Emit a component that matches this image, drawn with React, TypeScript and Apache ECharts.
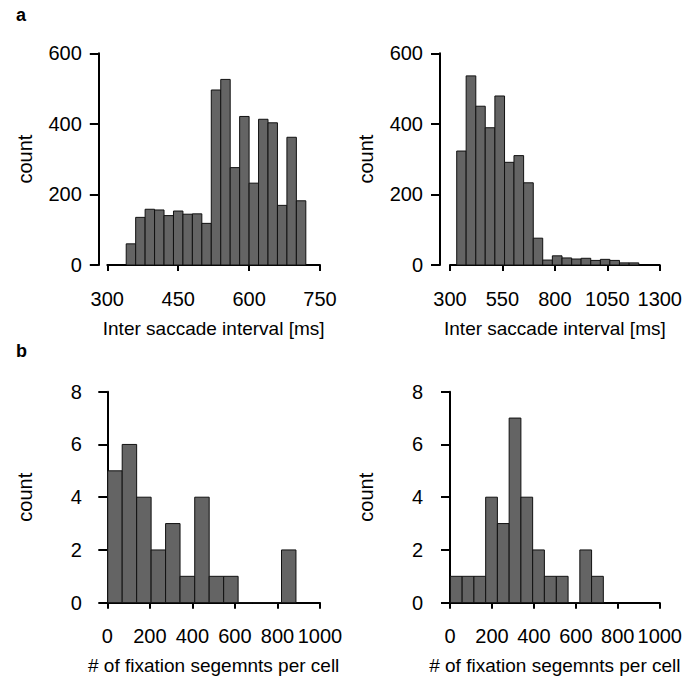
import React, { useEffect, useRef } from "react";
import * as echarts from "echarts";

// Panel a-left: inter saccade interval histogram
const edgesA1 = [340, 360, 380, 400, 420, 440, 460, 480, 500, 520, 540, 560, 580, 600, 620, 640, 660, 680, 700, 720];
const countsA1 = [60, 135, 158, 156, 140, 153, 144, 145, 118, 496, 526, 276, 421, 232, 413, 403, 169, 362, 182];

// Panel a-right
const edgesA2 = [332, 377, 423, 468, 514, 560, 605, 651, 697, 742, 788, 834, 880, 925, 971, 1017, 1062, 1108, 1154, 1200];
const countsA2 = [323, 536, 450, 389, 479, 291, 310, 233, 76, 14, 26, 20, 17, 19, 13, 16, 13, 6, 6];

// Panel b-left: fixation segments per cell
const edgesB1 = [2, 70, 138, 206, 274, 342, 411, 479, 547, 615, 683, 751, 819, 887];
const countsB1 = [5, 6, 4, 2, 3, 1, 4, 1, 1, 0, 0, 0, 2];

// Panel b-right
const edgesB2 = [2, 58, 114, 170, 226, 282, 338, 394, 450, 507, 563, 619, 675, 731];
const countsB2 = [1, 1, 1, 4, 3, 7, 4, 2, 1, 1, 0, 2, 1];

// Axis ranges / ticks
const xRangeA1 = [300, 750, 150];
const xRangeA2 = [300, 1300, 250];
const xRangeB = [0, 1000, 200];
const yRangeA = [0, 600, 200];
const yRangeB = [0, 8, 2];

const xNameA = "Inter saccade interval [ms]";
const xNameB = "# of fixation segemnts per cell";
const yName = "count";

const FONT = "Liberation Sans, Arial, Helvetica, sans-serif";

function toData(edges: number[], counts: number[]) {
  return counts.map((c, i) => [edges[i], edges[i + 1], c]);
}

export default function App() {
  const ref = useRef<HTMLDivElement>(null);
  useEffect(() => {
    if (!ref.current) return;
    const chart = echarts.init(ref.current, null, { renderer: "svg" });

    const grids = [
      { left: 107.3, top: 53.3, width: 212.7, height: 211.7 },
      { left: 450, top: 53.3, width: 211.7, height: 211.7 },
      { left: 107.3, top: 391.7, width: 212.7, height: 211 },
      { left: 450, top: 391.7, width: 211.7, height: 211 },
    ];
    const xr = [xRangeA1, xRangeA2, xRangeB, xRangeB];
    const yr = [yRangeA, yRangeA, yRangeB, yRangeB];
    const xNames = [xNameA, xNameA, xNameB, xNameB];
    const yOff = [8.5, 10, 8.5, 10];
    const xOff = [14, 14, 13.3, 13.3];
    const datas = [
      toData(edgesA1, countsA1),
      toData(edgesA2, countsA2),
      toData(edgesB1, countsB1),
      toData(edgesB2, countsB2),
    ];

    const axisLine = { show: true, lineStyle: { color: "#000", width: 2 } };
    const fmt = (v: number) => String(v);

    const option: any = {
      animation: false,
      backgroundColor: "#fff",
      textStyle: { fontFamily: FONT },
      grid: grids.map((g) => ({ ...g, containLabel: false })),
      xAxis: grids.map((_, i) => ({
        type: "value",
        gridIndex: i,
        min: xr[i][0],
        max: xr[i][1],
        interval: xr[i][2],
        offset: xOff[i],
        axisLine,
        axisTick: { show: true, length: 6, lineStyle: { color: "#000", width: 2 } },
        axisLabel: { color: "#000", fontSize: 20, fontFamily: FONT, margin: 10, hideOverlap: false, formatter: fmt },
        splitLine: { show: false },
        name: xNames[i],
        nameLocation: "middle",
        nameGap: 40,
        nameTextStyle: { color: "#000", fontSize: 19, fontFamily: FONT },
      })),
      yAxis: grids.map((_, i) => ({
        type: "value",
        gridIndex: i,
        min: yr[i][0],
        max: yr[i][1],
        interval: yr[i][2],
        offset: yOff[i],
        axisLine,
        axisTick: { show: true, length: 9, lineStyle: { color: "#000", width: 2 } },
        axisLabel: { color: "#000", fontSize: 20, fontFamily: FONT, margin: 17, formatter: fmt },
        splitLine: { show: false },
        name: yName,
        nameLocation: "middle",
        nameRotate: 90,
        nameGap: 64,
        nameTextStyle: { color: "#000", fontSize: 20, fontFamily: FONT },
      })),
      series: datas.map((d, i) => ({
        type: "custom",
        xAxisIndex: i,
        yAxisIndex: i,
        clip: false,
        encode: { x: [0, 1], y: 2 },
        data: d,
        renderItem: (params: any, api: any) => {
          const x0 = api.value(0);
          const x1 = api.value(1);
          const y = api.value(2);
          const p0 = api.coord([x0, y]);
          const p1 = api.coord([x1, 0]);
          return {
            type: "rect",
            shape: { x: p0[0], y: p0[1], width: p1[0] - p0[0], height: p1[1] - p0[1] },
            style: { fill: "#646464", stroke: "#111", lineWidth: 1 },
          };
        },
      })),
      graphic: [
        {
          type: "text",
          x: 16,
          y: 6,
          style: { text: "a", fontSize: 18, fontWeight: "bold", fontFamily: FONT, fill: "#000" },
        },
        {
          type: "text",
          x: 16,
          y: 342,
          style: { text: "b", fontSize: 18, fontWeight: "bold", fontFamily: FONT, fill: "#000" },
        },
      ],
    };
    chart.setOption(option);
    return () => chart.dispose();
  }, []);
  return (
    <div
      ref={ref}
      style={{ position: "absolute", left: 0, top: 0, width: 685, height: 681, background: "#fff" }}
    />
  );
}
